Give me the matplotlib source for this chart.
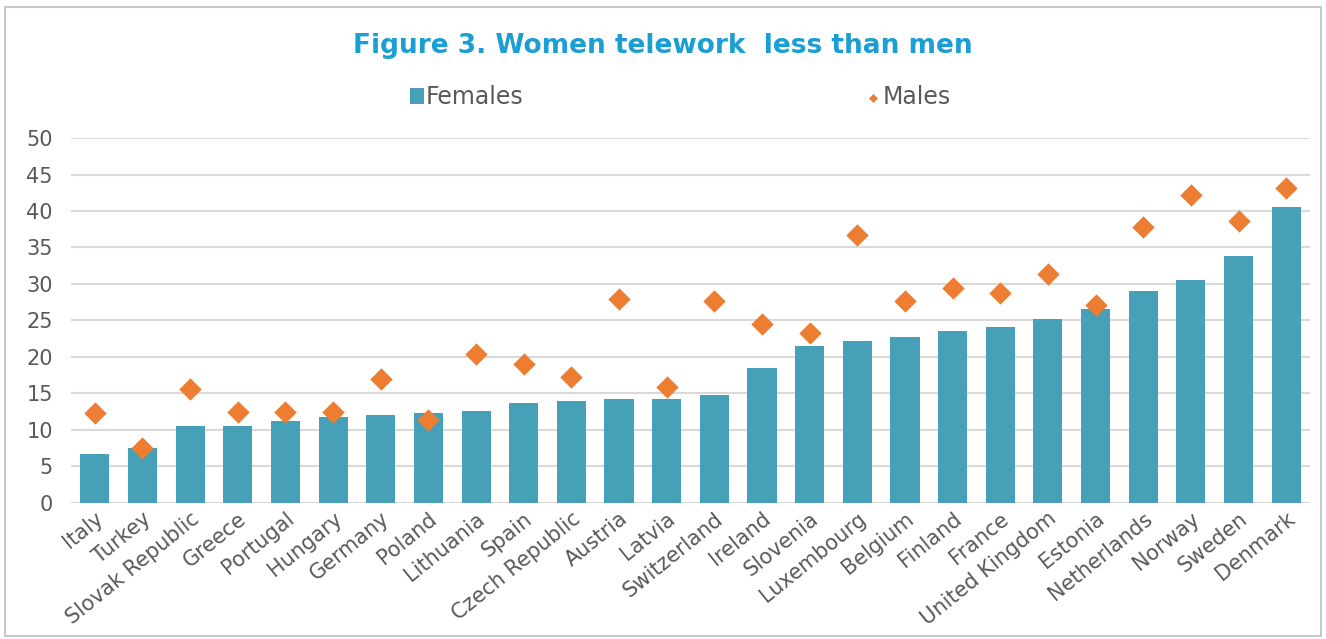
import numpy as np
import matplotlib.pyplot as plt
from matplotlib.patches import Rectangle

countries = ['Italy', 'Turkey', 'Slovak Republic', 'Greece', 'Portugal', 'Hungary',
             'Germany', 'Poland', 'Lithuania', 'Spain', 'Czech Republic', 'Austria',
             'Latvia', 'Switzerland', 'Ireland', 'Slovenia', 'Luxembourg', 'Belgium',
             'Finland', 'France', 'United Kingdom', 'Estonia', 'Netherlands', 'Norway',
             'Sweden', 'Denmark']
females = [6.7, 7.5, 10.5, 10.5, 11.2, 11.8, 12.0, 12.3, 12.6, 13.7, 14.0, 14.2,
           14.2, 14.8, 18.5, 21.5, 22.2, 22.7, 23.5, 24.1, 25.2, 26.6, 29.0, 30.5,
           33.8, 40.5]
males = [12.3, 7.5, 15.6, 12.5, 12.5, 12.5, 17.0, 11.4, 20.4, 19.0, 17.3, 28.0,
         15.9, 27.7, 24.5, 23.3, 36.7, 27.7, 29.5, 28.8, 31.4, 27.1, 37.8, 42.2,
         38.6, 43.1]

bar_color = '#45A0B8'
dot_color = '#ED7D31'
text_gray = '#595959'

fig = plt.figure(figsize=(13.26, 6.39), dpi=100)
ax = fig.add_axes([0.0535, 0.213, 0.9345, 0.571])

x = np.arange(len(countries))
bars = ax.bar(x, females, width=0.61, color=bar_color, label='Females', zorder=2)
dots = ax.scatter(x, males, marker='D', s=130, color=dot_color, label='Males', zorder=3,
                  linewidths=0)

ax.set_xlim(-0.5, len(countries) - 0.5)
ax.set_ylim(0, 50)
ax.set_yticks(range(0, 51, 5))
ax.yaxis.grid(True, color='#d9d9d9', linewidth=1.5, zorder=0)
ax.set_axisbelow(True)
for s in ax.spines.values():
    s.set_visible(False)
ax.axhline(0, color='#d9d9d9', linewidth=1.5, zorder=1)
ax.tick_params(axis='both', length=0, labelcolor=text_gray)
ax.tick_params(axis='y', pad=13, labelsize=15)
ax.tick_params(axis='x', pad=4, labelsize=15)
ax.set_xticks(x)
ax.set_xticklabels(countries, rotation=39, ha='right', rotation_mode='anchor')

fig.text(0.5, 0.928, 'Figure 3. Women telework  less than men', ha='center', va='center',
         fontsize=19, fontweight='bold', color='#1A9ED3')

fig.legend([bars, dots], ['Females', 'Males'], loc='center',
           bbox_to_anchor=(0.513, 0.848), ncol=2, frameon=False,
           fontsize=17, columnspacing=14.5, handletextpad=0.1, handlelength=0.6,
           markerscale=0.4, labelcolor=text_gray)

fig.patches.append(Rectangle((0.004, 0.004), 0.992, 0.985, transform=fig.transFigure,
                             fill=False, edgecolor='#c8c8c8', linewidth=1.5))

plt.savefig('out.png', dpi=100)
